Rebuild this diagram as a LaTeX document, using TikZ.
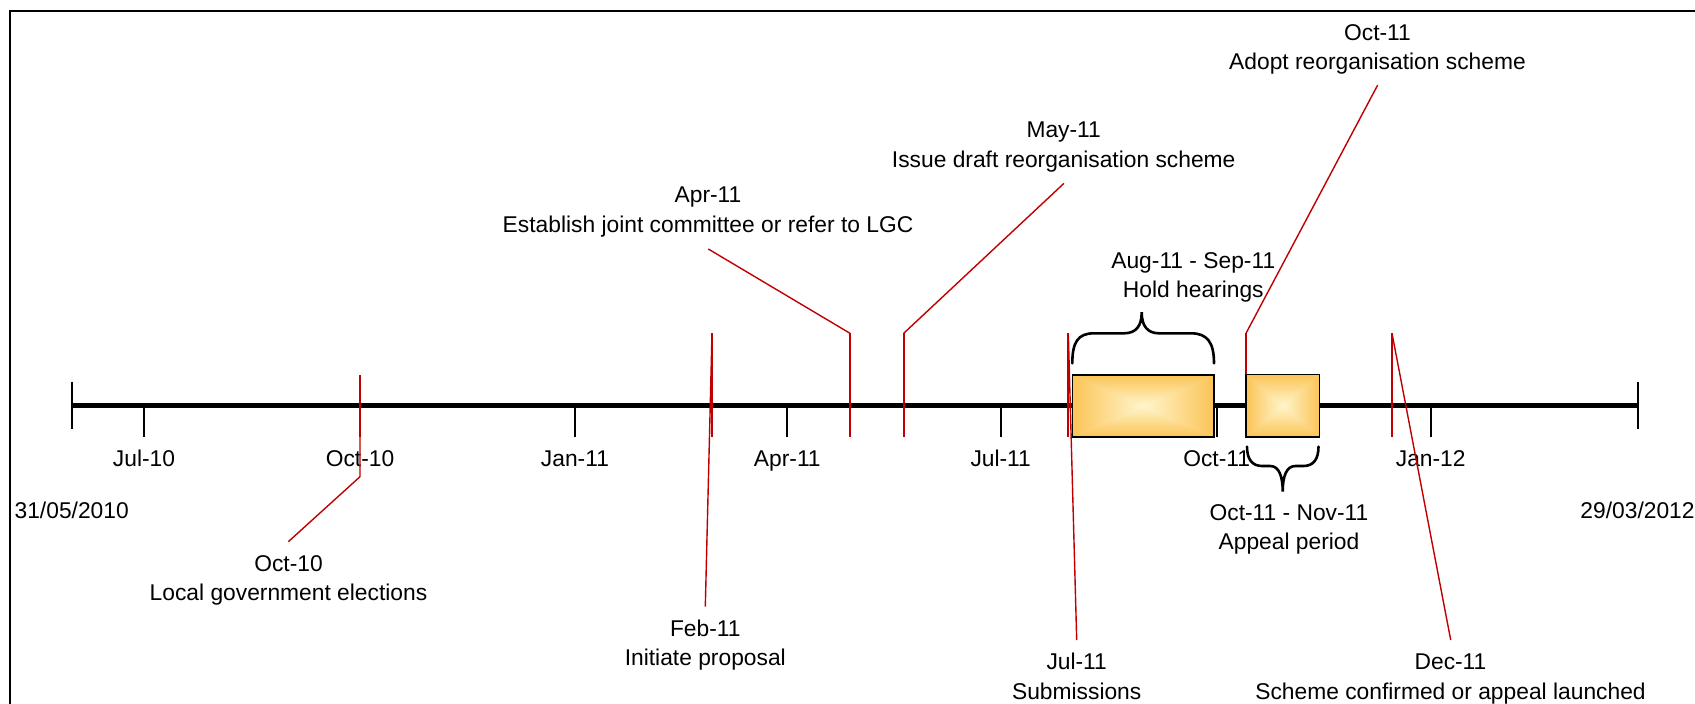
\documentclass[tikz,border=0pt]{standalone}
\usepackage{fontspec}
\setmainfont{Liberation Sans}
\definecolor{mred}{RGB}{192,0,0}
\definecolor{boxout}{RGB}{251,196,86}
\definecolor{boxin}{RGB}{255,245,205}
\begin{document}
\begin{tikzpicture}[x=1pt,y=-1pt,
  lbl/.style={font=\fontsize{22.8}{29.2}\selectfont, inner sep=0pt, anchor=base},
  axisline/.style={line width=4.5pt},
  endtick/.style={line width=2pt},
  monthtick/.style={line width=1.7pt},
  marker/.style={draw=mred, line width=2pt},
  leader/.style={draw=mred, line width=1.4pt},
  brace/.style={line width=2.6pt, line cap=round},
  boxedge/.style={draw=black, line width=1.6pt},
  gbox/.style={inner sep=0pt, outer sep=0pt}
]
\useasboundingbox (0,0) rectangle (1695,704);
\clip (0,0) rectangle (1695,704);
% frame
\draw[line width=2pt] (10,720) -- (10,11) -- (1710,11);

% axis
\coordinate (axL) at (71.7,405.5);
\coordinate (axR) at (1637.5,405.5);
\draw[axisline] (axL) -- (axR);
\draw[endtick] (71.7,381.7) -- (71.7,429);
\draw[endtick] (1637.5,381.7) -- (1637.5,429);
\foreach \x/\m [count=\i] in {144/Jul-10, 360/Oct-10, 575/Jan-11, 787.3/Apr-11, 1000.7/Jul-11, 1216.7/Oct-11, 1430.7/Jan-12}{
  \draw[monthtick] (\x,405.5) -- (\x,436.7);
  \node[lbl] (month\i) at (\x,466.7) {\m};
}
\node[lbl] (dL) at (71.7,518) {31/05/2010};
\node[lbl] (dR) at (1637.5,518) {29/03/2012};

% event coordinates
\coordinate (e1top) at (360,375);
\coordinate (e1bot) at (360,436.7);
\coordinate (e1bend) at (360,476.7);
\coordinate (e1end) at (288.3,541.7);

\coordinate (e2top) at (712,333.3);
\coordinate (e2bot) at (712,436.7);
\coordinate (e2end) at (705.3,606.7);

\coordinate (e3end) at (708.3,249);
\coordinate (e3top) at (850,333.3);
\coordinate (e3bot) at (850,436.7);

\coordinate (e4end) at (1064,183.3);
\coordinate (e4top) at (903.7,333.3);
\coordinate (e4bot) at (903.7,436.7);

\coordinate (e5top) at (1068.3,333.3);
\coordinate (e5bot) at (1068.3,436.7);
\coordinate (e5end) at (1076.7,640);

\coordinate (e6end) at (1377.7,85);
\coordinate (e6top) at (1246,333.3);
\coordinate (e6bot) at (1246,436.7);

\coordinate (e7top) at (1392,333.3);
\coordinate (e7bot) at (1392,436.7);
\coordinate (e7end) at (1450.7,640);

% red markers and leaders
\draw[marker] (e1top) -- (e1bot);
\draw[leader] (e1top) -- (e1bend) -- (e1end);
\draw[marker] (e2top) -- (e2bot);
\draw[leader] (e2top) -- (e2end);
\draw[marker] (e3top) -- (e3bot);
\draw[leader] (e3end) -- (e3top);
\draw[marker] (e4top) -- (e4bot);
\draw[leader] (e4end) -- (e4top);
\draw[marker] (e5top) -- (e5bot);
\draw[leader] (e5top) -- (e5end);
\draw[marker] (e6top) -- (e6bot);
\draw[leader] (e6end) -- (e6top);
\draw[marker] (e7top) -- (e7bot);
\draw[leader] (e7top) -- (e7end);

% boxes
\node[gbox, minimum width=141.7pt, minimum height=61.7pt] (hear) at (1143.15,405.85) {};
\node[gbox, minimum width=73.3pt, minimum height=62.4pt] (appeal) at (1282.65,405.5) {};
\foreach \b in {hear,appeal}{
  \fill[boxin!60!boxout] (\b.north west) rectangle (\b.south east);
  \shade[top color=boxout, bottom color=boxin] (\b.north west) -- (\b.north east) -- (\b.center) -- cycle;
  \shade[top color=boxin, bottom color=boxout] (\b.south west) -- (\b.south east) -- (\b.center) -- cycle;
  \shade[left color=boxout, right color=boxin] (\b.north west) -- (\b.south west) -- (\b.center) -- cycle;
  \shade[left color=boxin, right color=boxout] (\b.north east) -- (\b.south east) -- (\b.center) -- cycle;
  \draw[boxedge] (\b.north west) rectangle (\b.south east);
}

% braces
\draw[brace] (1072.3,363.3) .. controls (1072.3,342) and (1078,333.3) .. (1094,333.3)
  -- (1124,333.3) .. controls (1136,333.3) and (1141.7,326) .. (1141.7,312.3)
  .. controls (1141.7,326) and (1147.5,333.3) .. (1159,333.3)
  -- (1191,333.3) .. controls (1207,333.3) and (1214,342) .. (1214,363.3);
\draw[brace] (1247,446.7) .. controls (1247,459) and (1252,466) .. (1262,466)
  -- (1270,466) .. controls (1279,466) and (1282.7,476) .. (1282.7,491.7)
  .. controls (1282.7,476) and (1286.5,466) .. (1295.5,466)
  -- (1303.5,466) .. controls (1313.5,466) and (1318.5,459) .. (1318.5,446.7);

% labels
\node[lbl] (t1a) at (1377.5,40.6) {Oct-11};
\node[lbl] (t1b) at (1377.5,69.8) {Adopt reorganisation scheme};
\node[lbl] (t2a) at (1063.7,137.9) {May-11};
\node[lbl] (t2b) at (1063.7,167.1) {Issue draft reorganisation scheme};
\node[lbl] (t3a) at (708,202.8) {Apr-11};
\node[lbl] (t3b) at (708,232) {Establish joint committee or refer to LGC};
\node[lbl] (t4a) at (1193.3,268) {Aug-11 - Sep-11};
\node[lbl] (t4b) at (1193.3,297) {Hold hearings};
\node[lbl] (t5a) at (288.5,571.2) {Oct-10};
\node[lbl] (t5b) at (288.5,600.4) {Local government elections};
\node[lbl] (t6a) at (1289,520.6) {Oct-11 - Nov-11};
\node[lbl] (t6b) at (1289,549.8) {Appeal period};
\node[lbl] (t7a) at (705.3,636.2) {Feb-11};
\node[lbl] (t7b) at (705.3,665.4) {Initiate proposal};
\node[lbl] (t8a) at (1076.7,669.8) {Jul-11};
\node[lbl] (t8b) at (1076.7,699) {Submissions};
\node[lbl] (t9a) at (1450.5,669.8) {Dec-11};
\node[lbl] (t9b) at (1450.5,699) {Scheme confirmed or appeal launched};
\end{tikzpicture}
\end{document}
